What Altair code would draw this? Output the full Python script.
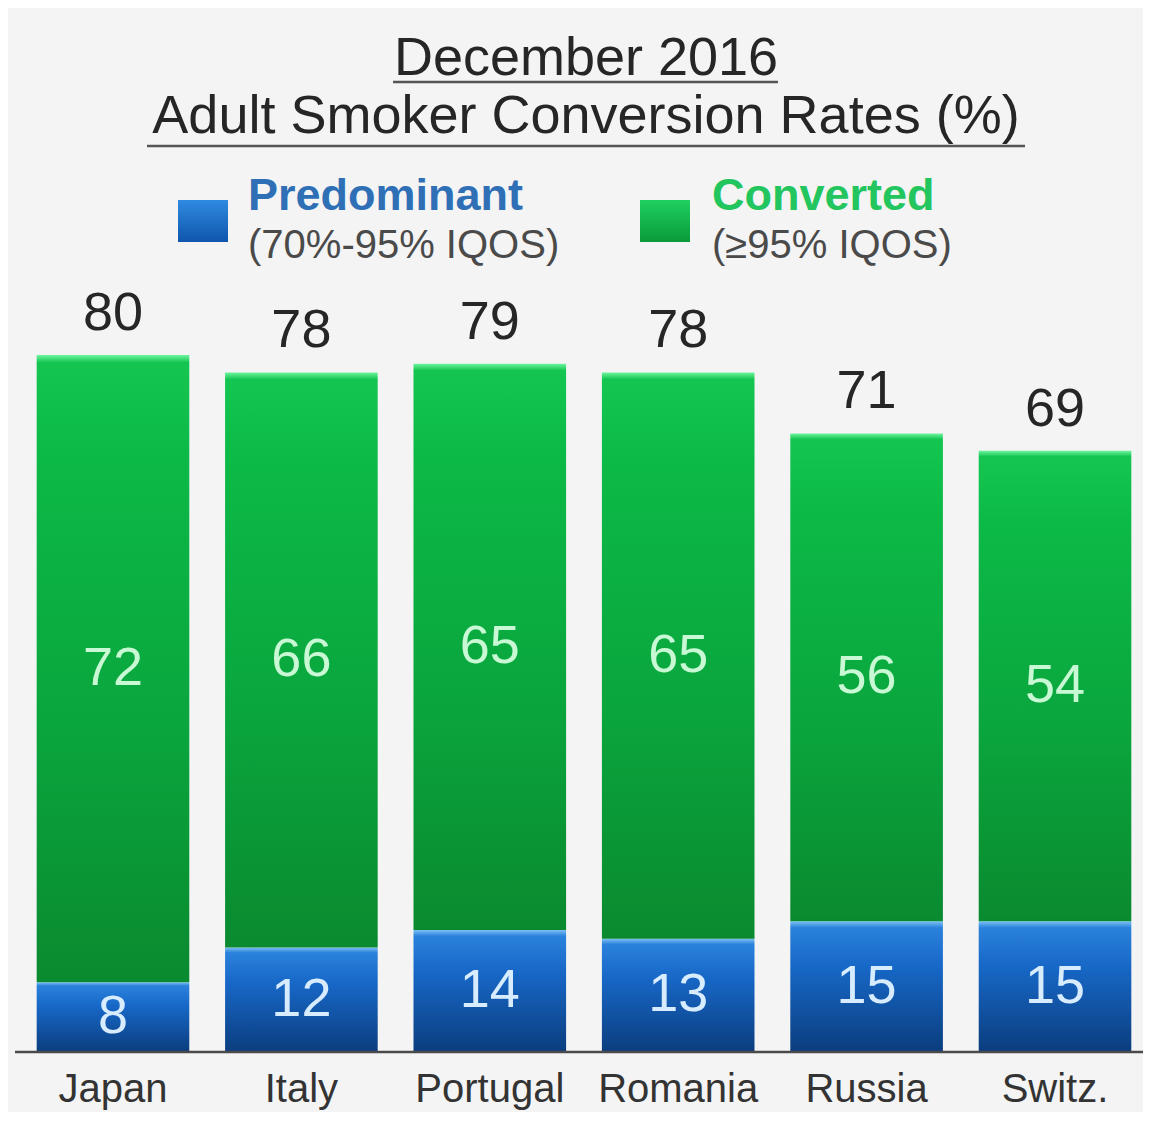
import altair as alt
import pandas as pd

countries = ["Japan", "Italy", "Portugal", "Romania", "Russia", "Switz."]
predominant = [8, 12, 14, 13, 15, 15]
converted = [72, 66, 65, 65, 56, 54]
totals = [80, 78, 79, 78, 71, 69]

title_lines = ["December 2016", "Adult Smoker Conversion Rates (%)"]
legend_names = ["Predominant", "Converted"]
legend_subs = ["(70%-95% IQOS)", "(\u226595% IQOS)"]

df = pd.DataFrame({
    "country": countries,
    "pred": predominant,
    "conv": converted,
    "total": totals,
})

FONT = "Liberation Sans"
W, H = 1118, 697

x_enc = alt.X(
    "country:N",
    sort=countries,
    scale=alt.Scale(paddingInner=0.19, paddingOuter=0.062),
    axis=alt.Axis(title=None, domain=False, ticks=False, tickSize=0, labelAngle=0,
                  labelFontSize=40, labelColor="#333333", labelFont=FONT,
                  labelPadding=17, grid=False),
)
y_scale = alt.Scale(domain=[0, 80], nice=False)

blue_grad = alt.Gradient(
    gradient="linear", x1=0, x2=0, y1=0, y2=1,
    stops=[
        alt.GradientStop(color="#7cc0f4", offset=0),
        alt.GradientStop(color="#2a82dc", offset=0.05),
        alt.GradientStop(color="#1767c6", offset=0.35),
        alt.GradientStop(color="#0b3d7e", offset=1),
    ],
)
green_grad = alt.Gradient(
    gradient="linear", x1=0, x2=0, y1=0, y2=1,
    stops=[
        alt.GradientStop(color="#6ff5a0", offset=0),
        alt.GradientStop(color="#14c651", offset=0.012),
        alt.GradientStop(color="#0cba47", offset=0.15),
        alt.GradientStop(color="#0aa53d", offset=0.6),
        alt.GradientStop(color="#0a8a2f", offset=1),
    ],
)

base = alt.Chart(df)

blue_bars = base.mark_bar(fill=blue_grad).encode(
    x=x_enc,
    y=alt.Y("pred:Q", scale=y_scale, axis=None),
)
green_bars = base.mark_bar(fill=green_grad).encode(
    x=x_enc,
    y=alt.Y("total:Q", scale=y_scale, axis=None),
    y2="pred:Q",
)

blue_text = base.transform_calculate(mid="datum.pred / 2").mark_text(
    font=FONT, fontSize=54, color="#d8ecff", baseline="middle"
).encode(x=x_enc, y=alt.Y("mid:Q", scale=y_scale, axis=None), text="pred:Q")

green_text = base.transform_calculate(mid="datum.pred + datum.conv / 2").mark_text(
    font=FONT, fontSize=54, color="#c8f8d4", baseline="middle"
).encode(x=x_enc, y=alt.Y("mid:Q", scale=y_scale, axis=None), text="conv:Q")

total_text = base.mark_text(
    font=FONT, fontSize=54, color="#262626", baseline="alphabetic", dy=-25
).encode(x=x_enc, y=alt.Y("total:Q", scale=y_scale, axis=None), text="total:Q")

one = alt.Data(values=[{"k": 1}])

baseline_rule = alt.Chart(one).mark_rule(color="#4a4a4a", strokeWidth=2.5).encode(
    x=alt.value(-10), x2=alt.value(W), y=alt.value(H)
)

# Title
t1 = alt.Chart(one).mark_text(font=FONT, fontSize=54, color="#262626",
                              align="center", baseline="alphabetic").encode(
    x=alt.value(561), y=alt.value(-280), text=alt.value(title_lines[0]))
t2 = alt.Chart(one).mark_text(font=FONT, fontSize=54, color="#262626",
                              align="center", baseline="alphabetic").encode(
    x=alt.value(561), y=alt.value(-222), text=alt.value(title_lines[1]))
u1 = alt.Chart(one).mark_rule(color="#555555", strokeWidth=2.5).encode(
    x=alt.value(368), x2=alt.value(753), y=alt.value(-273))
u2 = alt.Chart(one).mark_rule(color="#555555", strokeWidth=2.5).encode(
    x=alt.value(122), x2=alt.value(1000), y=alt.value(-209))

# Legend
sq_blue = alt.Chart(one).mark_rect(fill=alt.Gradient(
    gradient="linear", x1=0, x2=0, y1=0, y2=1,
    stops=[alt.GradientStop(color="#2f8be0", offset=0),
           alt.GradientStop(color="#0f55ad", offset=1)])).encode(
    x=alt.value(153), x2=alt.value(203), y=alt.value(-155), y2=alt.value(-113))
sq_green = alt.Chart(one).mark_rect(fill=alt.Gradient(
    gradient="linear", x1=0, x2=0, y1=0, y2=1,
    stops=[alt.GradientStop(color="#1fd060", offset=0),
           alt.GradientStop(color="#0a9a3a", offset=1)])).encode(
    x=alt.value(615), x2=alt.value(665), y=alt.value(-155), y2=alt.value(-113))

lg1 = alt.Chart(one).mark_text(font=FONT, fontSize=45, fontWeight="bold", color="#2f6fb6",
                               align="left", baseline="alphabetic").encode(
    x=alt.value(223), y=alt.value(-145), text=alt.value(legend_names[0]))
lg1s = alt.Chart(one).mark_text(font=FONT, fontSize=40, color="#4a4a4a",
                                align="left", baseline="alphabetic").encode(
    x=alt.value(223), y=alt.value(-97), text=alt.value(legend_subs[0]))
lg2 = alt.Chart(one).mark_text(font=FONT, fontSize=45, fontWeight="bold", color="#22c55e",
                               align="left", baseline="alphabetic").encode(
    x=alt.value(687), y=alt.value(-145), text=alt.value(legend_names[1]))
lg2s = alt.Chart(one).mark_text(font=FONT, fontSize=40, color="#4a4a4a",
                                align="left", baseline="alphabetic").encode(
    x=alt.value(687), y=alt.value(-97), text=alt.value(legend_subs[1]))

chart = alt.layer(
    blue_bars, green_bars, baseline_rule, blue_text, green_text, total_text,
    t1, t2, u1, u2, sq_blue, sq_green, lg1, lg1s, lg2, lg2s,
).properties(
    width=W, height=H,
    autosize="none",
    padding={"left": 17, "top": 347, "right": 0, "bottom": 60},
    background="#f4f4f4",
).configure(
    font=FONT,
    view=alt.ViewConfig(stroke=None),
)

chart.save("out.html", embed_options={"renderer": "svg", "actions": False})
